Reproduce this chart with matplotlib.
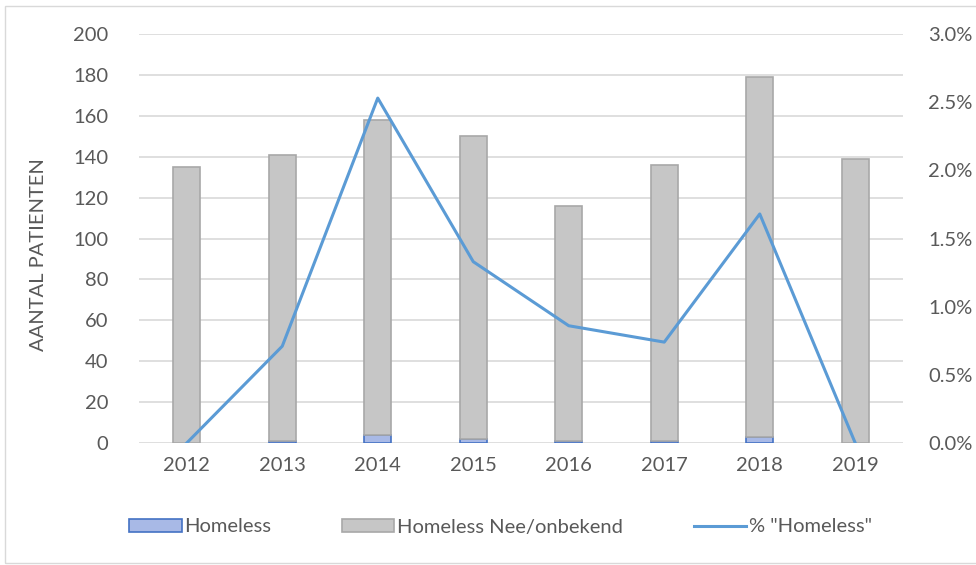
import matplotlib.pyplot as plt
import matplotlib.patches as mpatches
from matplotlib.lines import Line2D
from matplotlib.ticker import FuncFormatter

years = ["2012", "2013", "2014", "2015", "2016", "2017", "2018", "2019"]
homeless = [0, 1, 4, 2, 1, 1, 3, 0]
nee_onbekend = [135, 140, 154, 148, 115, 135, 176, 139]
pct_homeless = [0.0, 0.71, 2.53, 1.33, 0.86, 0.74, 1.68, 0.0]

plt.rcParams['font.family'] = ['Lato', 'DejaVu Sans']
txt = '#595959'
fs = 14.5

fig = plt.figure(figsize=(9.76, 5.65), dpi=100)
fig.patches.append(mpatches.Rectangle((5/976, 0.003), 1.2, 1 - 6/565 - 0.003,
                                      transform=fig.transFigure, fill=False,
                                      edgecolor='#d9d9d9', linewidth=1))
ax = fig.add_axes([139/976, 1 - 443/565, 764/976, 409/565])
x = list(range(len(years)))
w = 0.28
ax.bar(x, homeless, width=w, color='#a8b9e6', edgecolor='#4472c4', linewidth=1.2, zorder=3)
ax.bar(x, nee_onbekend, width=w, bottom=homeless, color='#c6c6c6', edgecolor='#a8a8a8',
       linewidth=1.2, zorder=3)
ax.set_xlim(-0.5, len(years) - 0.5)
ax.set_ylim(0, 200)
ax.set_yticks(range(0, 201, 20))
ax.set_xticks(x)
ax.set_xticklabels(years)
ax.grid(axis='y', color='#d9d9d9', linewidth=1.2, zorder=0)
for s in ax.spines.values():
    s.set_visible(False)
ax.tick_params(axis='both', length=0, labelsize=fs, colors=txt, pad=10)
ax.tick_params(axis='y', pad=22)
ax.set_ylabel('AANTAL PATIENTEN', fontsize=fs, color=txt)
ax.yaxis.set_label_coords(-0.121, 0.46)

ax2 = ax.twinx()
ax2.plot(x, pct_homeless, color='#5b9bd5', linewidth=2.2, zorder=5)
ax2.set_ylim(0, 3.0)
ax2.set_yticks([0, 0.5, 1.0, 1.5, 2.0, 2.5, 3.0])
ax2.yaxis.set_major_formatter(FuncFormatter(lambda v, p: f"{v:.1f}%"))
for s in ax2.spines.values():
    s.set_visible(False)
ax2.tick_params(axis='y', length=0, labelsize=fs, colors=txt, pad=18)

handles = [mpatches.Patch(facecolor='#a8b9e6', edgecolor='#4472c4', linewidth=1.2),
           mpatches.Patch(facecolor='#c6c6c6', edgecolor='#a8a8a8', linewidth=1.2),
           Line2D([], [], color='#5b9bd5', linewidth=2.2)]
labels = ['Homeless', 'Homeless Nee/onbekend', '% "Homeless"']
fig.legend(handles, labels, loc='center', bbox_to_anchor=(0.513, 1 - 527/565), ncol=3,
           frameon=False, fontsize=fs, labelcolor=txt, handlelength=2.6, handleheight=0.6,
           handletextpad=0.15, columnspacing=3.5)

fig.savefig('out.png', dpi=100)
